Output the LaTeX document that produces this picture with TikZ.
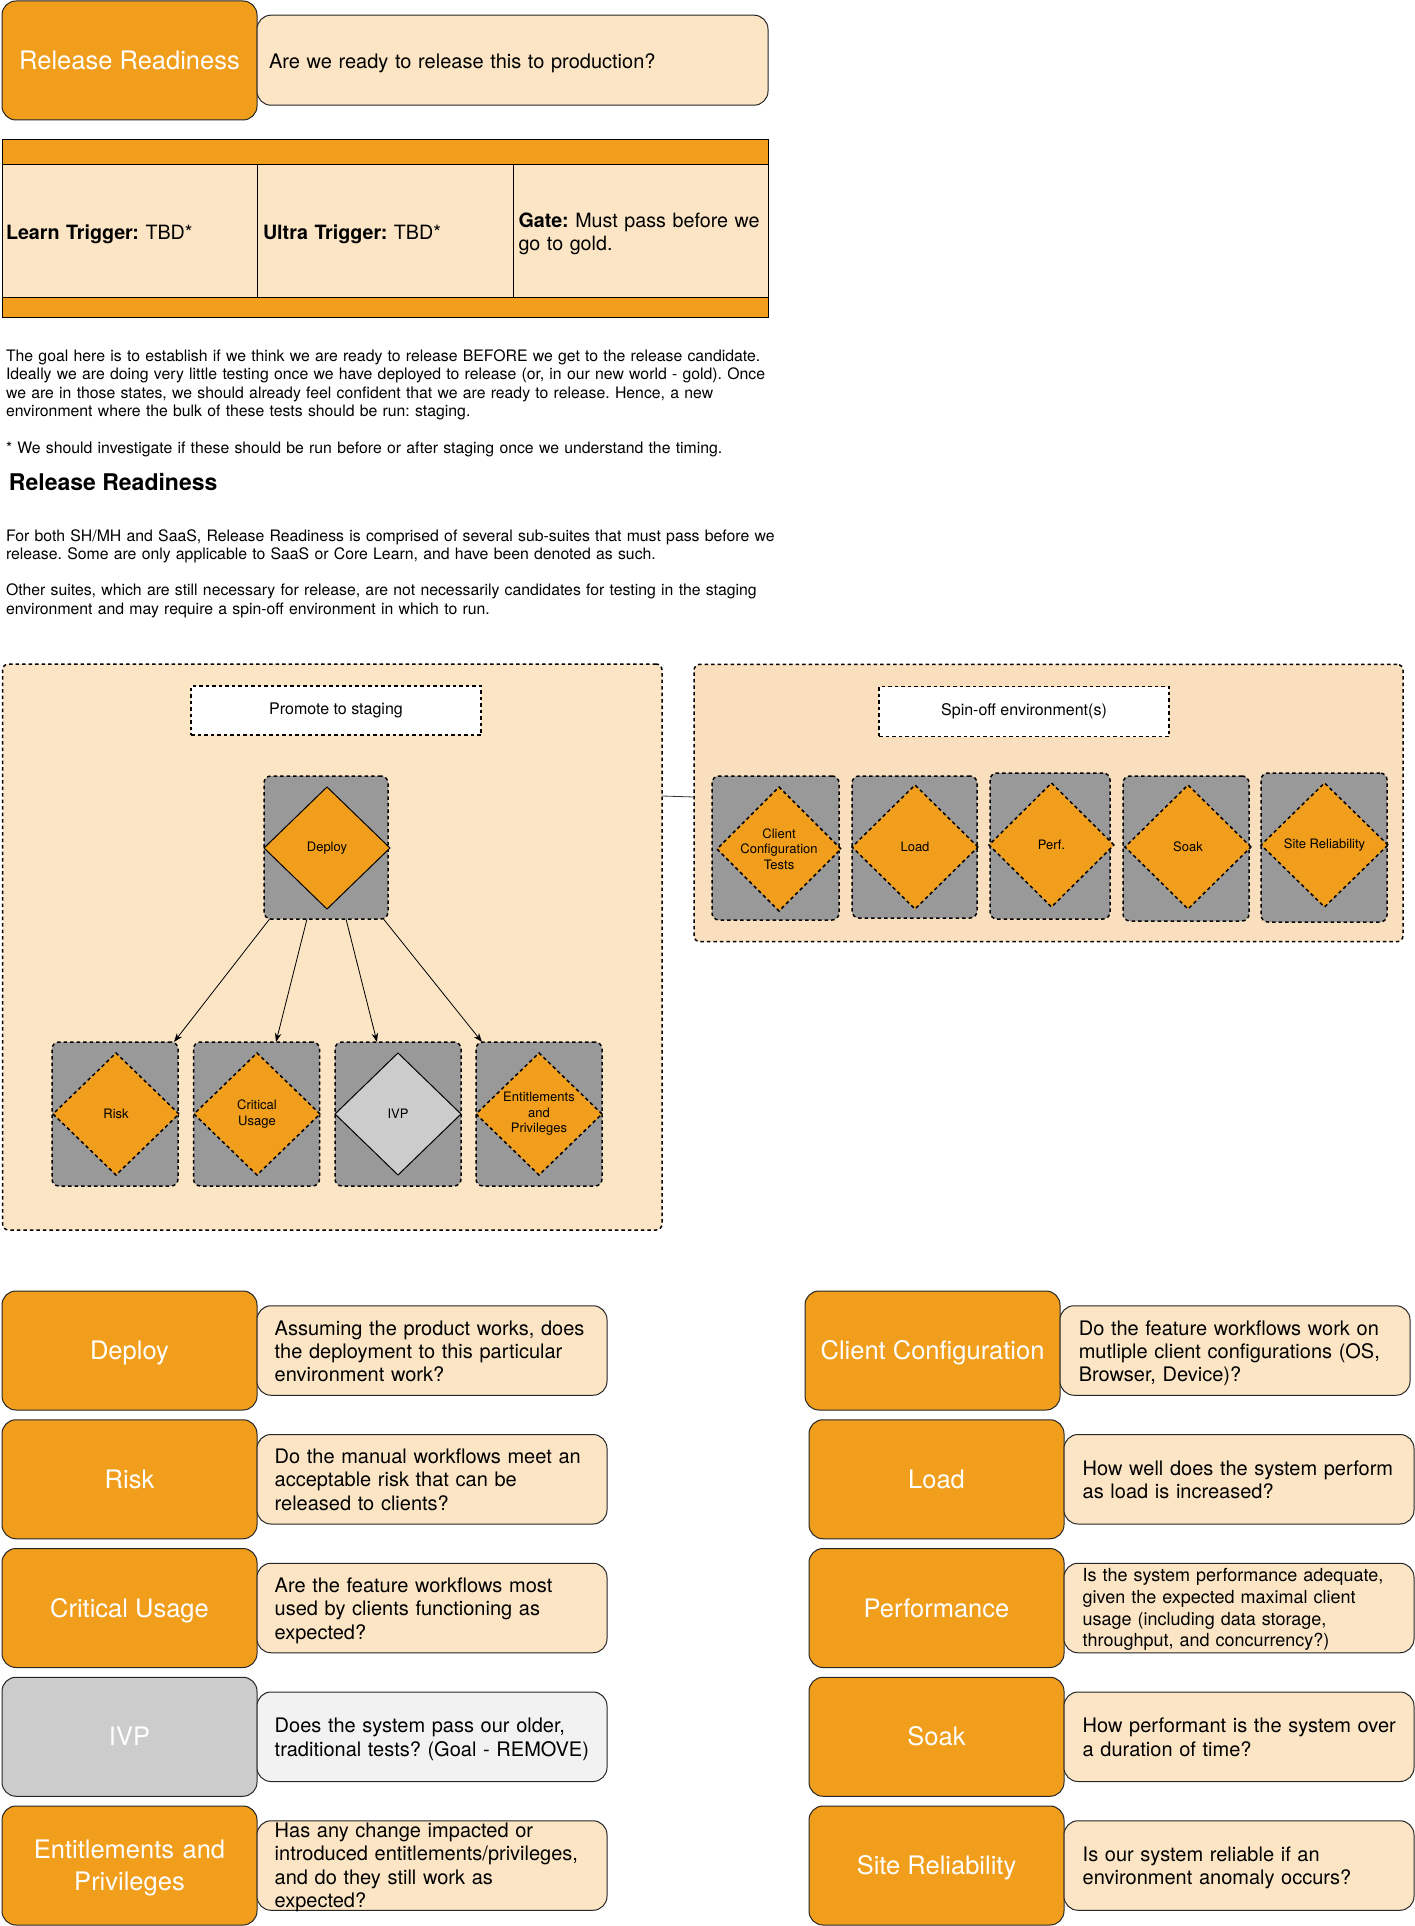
\documentclass[tikz,border=0pt]{standalone}
\usepackage{fontspec}
\setmainfont{TeX Gyre Heros}
\usetikzlibrary{shapes.geometric,arrows.meta}
\definecolor{org}{HTML}{F19E1C}
\definecolor{tan}{HTML}{FBE5C5}
\definecolor{tanr}{HTML}{F9DFBD}
\definecolor{gbx}{HTML}{999999}
\definecolor{ltg}{HTML}{CCCCCC}
\definecolor{vlg}{HTML}{F2F2F2}
\frenchspacing
\begin{document}
\begin{tikzpicture}[x=1pt,y=-1pt,
  every node/.style={inner sep=0pt, outer sep=0pt},
  sz/.style 2 args={minimum width=#1pt, minimum height=#2pt},
  ttl/.style={draw=black!85, line width=1pt, fill=org, rounded corners=14pt, text=white, align=center, font=\fontsize{25.5}{31.5}\selectfont},
  ttlone/.style={ttl, text height=18pt, text depth=0pt},
  qbox/.style={draw=black!85, line width=1pt, fill=tan, rounded corners=14pt},
  qtext/.style={anchor=base west, text width=420pt, align=left, font=\fontsize{20}{23.4}\selectfont},
  ptext/.style={anchor=base west, text width=900pt, align=left, font=\fontsize{15.8}{18.3}\selectfont},
  ttext/.style={anchor=base west, text width=260pt, align=left, font=\fontsize{19.7}{23.4}\selectfont},
  band/.style={draw=black, line width=1pt, fill=org},
  cell/.style={draw=black, line width=1pt, fill=tan},
  dsh/.style={draw=black, line width=1.5pt, dash pattern=on 3.5pt off 3pt},
  cont/.style={dsh, fill=tan, rounded corners=6pt},
  lbl/.style={dsh, fill=white, font=\fontsize{16}{19}\selectfont},
  gbox/.style={dsh, fill=gbx, rounded corners=7pt},
  dia/.style={diamond, draw=black, line width=1pt, fill=org, align=center, font=\fontsize{13}{15.5}\selectfont},
  diad/.style={dia, line width=1.5pt, dash pattern=on 3.5pt off 3pt},
  arr/.style={-{Stealth[length=9pt,width=6.5pt]}, line width=0.8pt}
]
\useasboundingbox (0,0) rectangle (1415,1926);

% ---------- top ----------
\node[ttlone, sz={255}{119}] (rrT) at (129.5,60.5) {Release Readiness};
\node[qbox, sz={511}{90}] (rrQ) at (512.5,60.2) {};
\node[qtext] (rrQt) at (269,68.3) {Are we ready to release this to production?};

\node[band, sz={766}{25}] (tbTop) at (385,151.8) {};
\node[cell, sz={255}{133}] (c1) at (129.5,230.8) {};
\node[cell, sz={256}{133}] (c2) at (385,230.8) {};
\node[cell, sz={255}{133}] (c3) at (640.5,230.8) {};
\node[band, sz={766}{20}] (tbBot) at (385,307.3) {};
\node[ttext] (t1) at (6,239.3) {\textbf{Learn Trigger:} TBD*};
\node[ttext] (t2) at (263,239.3) {\textbf{Ultra Trigger:} TBD*};
\node[ttext] (t3) at (518.5,227.3) {\textbf{Gate:} Must pass before we\\go to gold.};

\node[ptext] (p1) at (6,361.5) {The goal here is to establish if we think we are ready to release BEFORE we get to the release candidate.\\
Ideally we are doing very little testing once we have deployed to release (or, in our new world - gold). Once\\
we are in those states, we should already feel confident that we are ready to release. Hence, a new\\
environment where the bulk of these tests should be run: staging.\\[18.3pt]
* We should investigate if these should be run before or after staging once we understand the timing.};
\node[anchor=base west, font=\fontsize{23}{27}\selectfont\bfseries] (hd) at (9,490) {Release Readiness};
\node[ptext] (p2) at (6,541) {For both SH/MH and SaaS, Release Readiness is comprised of several sub-suites that must pass before we\\
release. Some are only applicable to SaaS or Core Learn, and have been denoted as such.\\[18.3pt]
Other suites, which are still necessary for release, are not necessarily candidates for testing in the staging\\
environment and may require a spin-off environment in which to run.};

% ---------- containers ----------
\node[cont, sz={659.5}{566}] (lc) at (332.25,947) {};
\node[cont, fill=tanr, sz={709}{277.4}] (rc) at (1048.5,803) {};
\draw[line width=0.8pt, black!80] ([yshift=151pt]lc.east) -- ([yshift=6pt]rc.west);

\node[lbl, sz={290}{49}] (lp) at (336,710.5) {Promote to staging};
\node[lbl, sz={290}{50}] (ls) at (1024,711.5) {Spin-off environment(s)};

% ---------- staging ----------
\node[gbox, sz={124}{143}] (depB) at (326,847.5) {};
\node[dia, sz={126}{122}] (depD) at (327,848) {Deploy};

\node[gbox, sz={126}{144}] (riskB) at (115,1114) {};
\node[gbox, sz={126}{144}] (critB) at (256.5,1114) {};
\node[gbox, sz={126}{144}] (ivpB) at (398,1114) {};
\node[gbox, sz={126}{144}] (entB) at (539,1114) {};
\node[diad, sz={126}{122}] (riskD) at (116,1114) {Risk};
\node[diad, sz={126}{122}] (critD) at (257,1114) {Critical\\Usage};
\node[dia, fill=ltg, sz={126}{122}] (ivpD) at (398,1114) {IVP};
\node[diad, sz={126}{122}] (entD) at (539,1114) {Entitlements\\and\\Privileges};

\draw[arr] ([xshift=-56.4pt]depB.south) -- ([xshift=59pt]riskB.north);
\draw[arr] ([xshift=-19pt]depB.south) -- ([xshift=19.5pt]critB.north);
\draw[arr] ([xshift=20pt]depB.south) -- ([xshift=-21pt]ivpB.north);
\draw[arr] ([xshift=57.5pt]depB.south) -- ([xshift=-57pt]entB.north);

% ---------- spin-off ----------
\node[gbox, sz={127}{144}] (ccB) at (775.5,848) {};
\node[gbox, sz={125}{142}] (ldB) at (914.5,847) {};
\node[gbox, sz={120}{146}] (pfB) at (1050,846) {};
\node[gbox, sz={126}{145}] (skB) at (1186,848.5) {};
\node[gbox, sz={126}{149}] (srB) at (1324,847.5) {};
\node[diad, sz={124}{124}] (ccD) at (779,849) {Client\\Configuration\\Tests};
\node[diad, sz={126}{124}] (ldD) at (915,847) {Load};
\node[diad, sz={125}{124}] (pfD) at (1051.5,845) {Perf.};
\node[diad, sz={126}{124}] (skD) at (1188,847) {Soak};
\node[diad, sz={127}{124}] (srD) at (1324.5,845) {Site Reliability};

% ---------- bottom left ----------
\node[ttlone, sz={255}{119}] (dpT) at (129.5,1350.5) {Deploy};
\node[qbox, sz={350}{89.5}] (dpQ) at (432,1350.5) {};
\node[qtext] (dpX) at (274.7,1335) {Assuming the product works, does\\the deployment to this particular\\environment work?};

\node[ttlone, sz={255}{119}] (rkT) at (129.5,1479.25) {Risk};
\node[qbox, sz={350}{89.5}] (rkQ) at (432,1479.25) {};
\node[qtext] (rkX) at (274.7,1463.4) {Do the manual workflows meet an\\acceptable risk that can be\\released to clients?};

\node[ttlone, sz={255}{119}] (cuT) at (129.5,1608) {Critical Usage};
\node[qbox, sz={350}{89.5}] (cuQ) at (432,1608) {};
\node[qtext] (cuX) at (274.7,1592.2) {Are the feature workflows most\\used by clients functioning as\\expected?};

\node[ttlone, fill=ltg, sz={255}{119}] (ivT) at (129.5,1736.75) {IVP};
\node[qbox, fill=vlg, sz={350}{89.5}] (ivQ) at (432,1736.75) {};
\node[qtext] (ivX) at (274.7,1732.7) {Does the system pass our older,\\traditional tests? (Goal - REMOVE)};

\node[ttl, sz={255}{119}] (enT) at (129.5,1865.5) {};
\node[anchor=base, text width=255pt, align=center, text=white, font=\fontsize{25.5}{32}\selectfont] (enTx) at (129.5,1858.5) {Entitlements and\\Privileges};
\node[qbox, sz={350}{89.5}] (enQ) at (432,1865.5) {};
\node[qtext] (enX) at (274.7,1837.3) {Has any change impacted or\\introduced entitlements/privileges,\\and do they still work as\\expected?};

% ---------- bottom right ----------
\node[ttlone, sz={255}{119}] (ccT) at (932.5,1350.5) {Client Configuration};
\node[qbox, sz={350}{89.5}] (ccQ) at (1235,1350.5) {};
\node[qtext] (ccX) at (1078.8,1335) {Do the feature workflows work on\\mutliple client configurations (OS,\\Browser, Device)?};

\node[ttlone, sz={255}{119}] (ldT) at (936.5,1479.25) {Load};
\node[qbox, sz={350}{89.5}] (ldQ) at (1239,1479.25) {};
\node[qtext] (ldX) at (1082.7,1475) {How well does the system perform\\as load is increased?};

\node[ttlone, sz={255}{119}] (pfT) at (936.5,1608) {Performance};
\node[qbox, sz={350}{89.5}] (pfQ) at (1239,1608) {};
\node[qtext, font=\fontsize{18}{21.7}\selectfont] (pfX) at (1082.7,1581.7) {Is the system performance adequate,\\given the expected maximal client\\usage (including data storage,\\throughput, and concurrency?)};

\node[ttlone, sz={255}{119}] (skT) at (936.5,1736.75) {Soak};
\node[qbox, sz={350}{89.5}] (skQ) at (1239,1736.75) {};
\node[qtext] (skX) at (1082.7,1732.7) {How performant is the system over\\a duration of time?};

\node[ttlone, sz={255}{119}] (srT) at (936.5,1865.5) {Site Reliability};
\node[qbox, sz={350}{89.5}] (srQ) at (1239,1865.5) {};
\node[qtext] (srX) at (1082.7,1861) {Is our system reliable if an\\environment anomaly occurs?};
\end{tikzpicture}
\end{document}
